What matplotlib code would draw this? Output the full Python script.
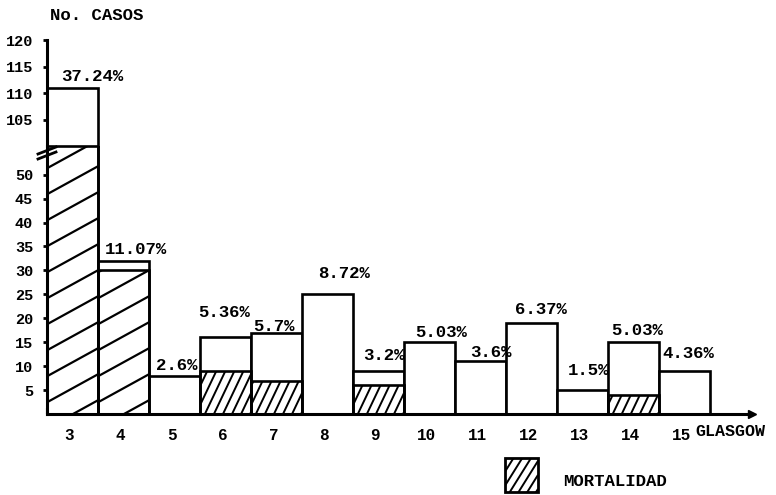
import matplotlib
matplotlib.use("Agg")
import matplotlib.pyplot as plt
import numpy as np
from matplotlib.patches import Rectangle
from matplotlib.lines import Line2D
from matplotlib.transforms import IdentityTransform, Bbox, ScaledTranslation

# ---- data ----
gcs = [3, 4, 5, 6, 7, 8, 9, 10, 11, 12, 13, 14, 15]
total_cases = [111, 32, 8, 16, 17, 25, 9, 15, 11, 19, 5, 15, 9]
deaths = [100, 30, 0, 9, 7, 0, 6, 0, 0, 0, 0, 4, 0]
pct_labels = ["37.24%", "11.07%", "2.6%", "5.36%", "5.7%", "8.72%", "3.2%",
              "5.03%", "3.6%", "6.37%", "1.5%", "5.03%", "4.36%"]
lower_ticks = [5, 10, 15, 20, 25, 30, 35, 40, 45, 50]
upper_ticks = [105, 110, 115, 120]

# ---- label offsets (pixels: dx from bar centre, dy above bar top) ----
lab_dx = [20, 12, 2, -1, -2, 17, 6, 12, 11, 10, 6, 4, 4]
lab_dy = [11, 11, 10, 25, 6, 21, 15, 10, 9, 14, 20, 12, 17]

W, H = 776, 495
FONT = "Liberation Mono"
plt.rcParams["font.family"] = [FONT, "DejaVu Sans Mono"]
plt.rcParams["font.weight"] = "bold"

fig = plt.figure(figsize=(W / 100, H / 100), dpi=100)


def rect_px(x0, ytop, x1, ybot):
    return [x0 / W, (H - ybot) / H, (x1 - x0) / W, (ybot - ytop) / H]


ax_lo = fig.add_axes(rect_px(47, 146, 752, 414))
ax_hi = fig.add_axes(rect_px(47, 40, 752, 146))
XMAX = 13.33
LO_TOP = 56
for a in (ax_lo, ax_hi):
    a.set_xlim(-0.5, XMAX)
    a.patch.set_alpha(0)
    for s in ("top", "right"):
        a.spines[s].set_visible(False)
    a.spines["left"].set_linewidth(2.2)
ax_lo.set_ylim(0, LO_TOP)
ax_hi.set_ylim(100, 120)
ax_hi.spines["bottom"].set_visible(False)
ax_lo.spines["bottom"].set_linewidth(2.2)

xpos = np.arange(len(gcs))
tot = np.array(total_cases)
dth = np.array(deaths)
LW = 1.9

# total bars (white)
ax_lo.bar(xpos, tot, width=1, color="white", edgecolor="black", linewidth=LW, zorder=2)
# upper part of broken bars
big = tot > LO_TOP
ax_hi.bar(xpos[big], tot[big] - dth[big], bottom=dth[big], width=1,
          color="white", edgecolor="black", linewidth=LW, zorder=2, clip_on=False)

# mortality bars
has_d = dth > 0
mbars = ax_lo.bar(xpos[has_d], dth[has_d], width=1, fill=False, edgecolor="black",
                  linewidth=LW, zorder=3)


def hatch_box(container, clip, slope, dv, lw):
    x0, x1, y0, y1 = clip.x0, clip.x1, clip.y0, clip.y1
    cmin = y0 - slope * x1
    cmax = y1 - slope * x0
    c = y0 - slope * x0 + dv * 0.45
    while c - dv > cmin:
        c -= dv
    while c < cmax:
        ln = Line2D([x0, x1], [slope * x0 + c, slope * x1 + c], color="black",
                    linewidth=lw, transform=IdentityTransform(),
                    solid_capstyle="butt", zorder=2.5)
        container.add_artist(ln)
        ln.set_clip_path(None)
        ln.set_clip_box(clip)
        c += dv


fig.canvas.draw()
ax_bb = ax_lo.bbox.frozen()
for p, d in zip(mbars.patches, dth[has_d]):
    bb = Bbox.intersection(p.get_window_extent(), ax_bb)
    if d > 20:
        hatch_box(ax_lo, bb, 0.55, 26, 1.6)
    else:
        hatch_box(ax_lo, bb, 2.1, 19, 1.4)

# y ticks
for a, tks in ((ax_lo, lower_ticks), (ax_hi, upper_ticks)):
    a.set_yticks(tks)
    a.set_yticklabels([str(t) for t in tks])
    a.tick_params(axis="y", direction="out", length=3, width=2, pad=7,
                  labelsize=11)
ax_hi.set_xticks([])

# x ticks
ax_lo.set_xticks(xpos)
ax_lo.set_xticklabels([str(g) for g in gcs])
ax_lo.tick_params(axis="x", which="major", length=0, pad=10, labelsize=11.5)
shift = ScaledTranslation(-3 / 100, 0, fig.dpi_scale_trans)
for t in ax_lo.get_xticklabels():
    t.set_transform(t.get_transform() + shift)
ax_lo.set_xticks(np.arange(-0.5, len(gcs), 1.0), minor=True)
ax_lo.tick_params(axis="x", which="minor", direction="in", length=4, width=1.5)
ax_lo.plot([XMAX], [0], marker=">", ms=6, color="black", clip_on=False, zorder=5)

# percentage labels
for i, lab in enumerate(pct_labels):
    a = ax_hi if tot[i] > LO_TOP else ax_lo
    a.annotate(lab, xy=(xpos[i], tot[i]), xytext=(lab_dx[i], lab_dy[i]),
               textcoords="offset pixels", ha="center", va="center",
               fontsize=12.5, annotation_clip=False, zorder=6)

# axis titles
fig.text(97 / W, (H - 16) / H, "No. CASOS", ha="center", va="center", fontsize=12.5)
fig.text(695 / W, (H - 432) / H, "GLASGOW", ha="left", va="center", fontsize=12)

# break marks on the y axis
for off in (0, 5):
    fig.add_artist(Line2D([38, 56], [H - 159 + off, H - 152 + off], color="black",
                          linewidth=2, transform=IdentityTransform()))

# legend
leg = Rectangle((505, H - 492), 33, 34, fill=False, edgecolor="black",
                linewidth=2, transform=IdentityTransform())
fig.add_artist(leg)
hatch_box(fig, leg.get_window_extent(), 1.6, 14, 1.4)
fig.text(563 / W, (H - 482) / H, "MORTALIDAD", ha="left", va="center", fontsize=12.5)

fig.savefig("out.png", dpi=100)
